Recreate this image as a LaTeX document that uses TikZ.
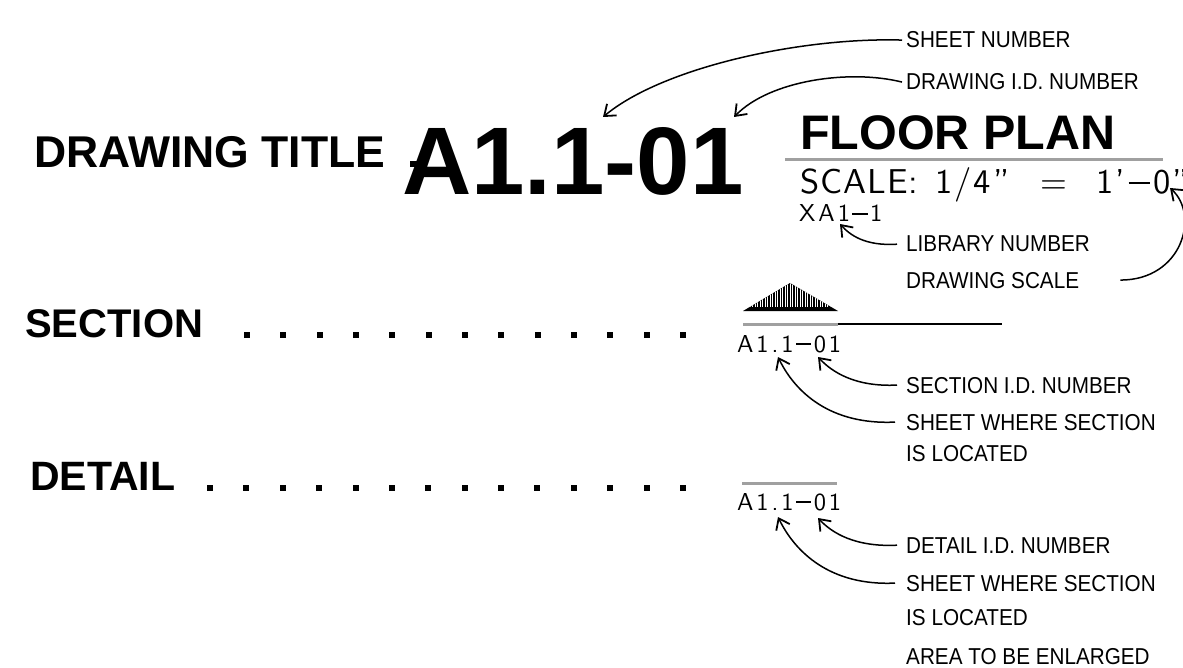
\documentclass[tikz,border=0pt]{standalone}
\usepackage{fontspec}
\setmainfont{Liberation Sans}
\newfontfamily\labfont[FakeStretch=0.9]{Liberation Sans}
\newfontfamily\cadtfont[LetterSpace=3]{lmsans10-regular.otf}
\newfontfamily\cadwfont[LetterSpace=12]{lmsans10-regular.otf}
\newfontfamily\cadsfont[LetterSpace=6]{lmsans10-regular.otf}
\usetikzlibrary{arrows.meta}
\newcommand\cadminus{\kern0.1em\raisebox{0.3em}{\rule{0.62em}{0.06em}}\kern0.1em}
\definecolor{bargray}{HTML}{A0A0A0}
\tikzset{
  bigtxt/.style={inner sep=0pt, anchor=base west, font=\bfseries\fontsize{#1}{#1}\selectfont},
  lab/.style={inner sep=0pt, anchor=base west, font=\labfont\fontsize{23}{26}\selectfont},
  cadt/.style={inner sep=0pt, anchor=base west, font=\cadtfont\fontsize{#1}{#1}\selectfont},
  cad/.style={inner sep=0pt, anchor=base west, font=\cadsfont\fontsize{#1}{#1}\selectfont},
  cadw/.style={inner sep=0pt, anchor=base west, font=\cadwfont\fontsize{#1}{#1}\selectfont},
  lead/.style={line width=1.5pt, -{Straight Barb[length=10pt,width=15pt,line width=1.8pt]}},
  graybar/.style={draw=bargray, line width=3pt},
  dot/.style={fill=black}
}
\begin{document}
\begin{tikzpicture}[x=1pt,y=-1pt]
\useasboundingbox (0,0) rectangle (1183,668);
\clip (0,0) rectangle (1183,668);

% titles
\node[bigtxt=44.5] (dt) at (34,168) {DRAWING TITLE};
\fill (410,161) rectangle (421,167);
\node[bigtxt=96] (num) at (402,195) {A1.1-01};
\node[bigtxt=48.5] (fp) at (800,150) {FLOOR PLAN};
\draw[graybar] (785,160) -- (1163,160);
\node[cadt=34.5] (sc1) at (800,194) {SCALE:};
\node[cad=34.5] (sc2) at (935,194) {1/4”};
\node[cad=34.5] (sc3) at (1040,194) {=};
\node[cad=34.5] (sc4) at (1096,194) {1’\cadminus0”};
\node[cadw=24.5] (xa) at (799,222) {XA1\cadminus1};

% labels
\node[lab] (sn) at (906,48) {SHEET NUMBER};
\node[lab] (did) at (906,90) {DRAWING I.D. NUMBER};
\node[lab] (lib) at (906,252) {LIBRARY NUMBER};
\node[lab] (ds) at (906,288) {DRAWING SCALE};
\node[lab] (secid) at (906,393) {SECTION I.D. NUMBER};
\node[lab] (shw1) at (906,430) {SHEET WHERE SECTION};
\node[lab] (isl1) at (906,461) {IS LOCATED};
\node[lab] (detid) at (906,553) {DETAIL I.D. NUMBER};
\node[lab] (shw2) at (906,591) {SHEET WHERE SECTION};
\node[lab] (isl2) at (906,625) {IS LOCATED};
\node[lab] (area) at (906,664) {AREA TO BE ENLARGED};

% tips
\coordinate (t1) at (603,117);
\coordinate (t2) at (734,117);
\coordinate (t3) at (840,224);
\coordinate (t4) at (1170,188);
\coordinate (t5) at (818,357);
\coordinate (t6) at (778,357);
\coordinate (t7) at (818,518);
\coordinate (t8) at (778,517);

% leaders
\draw[lead] ([xshift=-4pt]sn.west) .. controls +(-100,-3) and +(60,-50) .. (t1);
\draw[lead] ([xshift=-4pt]did.west) .. controls +(-52,-13) and +(36,-37) .. (t2);
\draw[lead] ([xshift=-9pt]lib.west) .. controls +(-32,2) and +(10,11) .. (t3);
\draw[lead] ([xshift=41pt]ds.east) .. controls +(62,0) and +(30,27) .. (t4);
\draw[lead] ([xshift=-9pt]secid.west) .. controls +(-42,2) and +(14,15) .. (t5);
\draw[lead] ([xshift=-11pt]shw1.west) .. controls +(-65,3) and +(17,35) .. (t6);
\draw[lead] ([xshift=-9pt]detid.west) .. controls +(-42,2) and +(14,15) .. (t7);
\draw[lead] ([xshift=-11pt]shw2.west) .. controls +(-65,3) and +(17,35) .. (t8);

% section row
\node[bigtxt=40] (sec) at (25,337) {SECTION};
\foreach \i in {0,...,12} \fill[dot] ({247+\i*36.33-3},332) rectangle ++(6,6);
\fill (743,311) -- (790,283) -- (838,311) -- cycle;
\begin{scope}
  \clip (743,311) -- (790,283) -- (838,311) -- cycle;
  \foreach \x in {745,747.5,...,837} \draw[white, line width=0.35pt] (\x,280) -- (\x,307);
\end{scope}
\draw[graybar] (743,324) -- (838,324);
\draw[line width=2pt] (838,324) -- (1002,324);
\node[cadw=24.5] (secnum) at (737,352) {A1.1\cadminus01};

% detail row
\node[bigtxt=41] (det) at (30,490) {DETAIL};
\foreach \i in {0,...,13} \fill[dot] ({210+\i*36.38-3},485) rectangle ++(6,6);
\draw[graybar] (742,483) -- (837,483);
\node[cadw=24.5] (detnum) at (737,510) {A1.1\cadminus01};
\end{tikzpicture}
\end{document}
